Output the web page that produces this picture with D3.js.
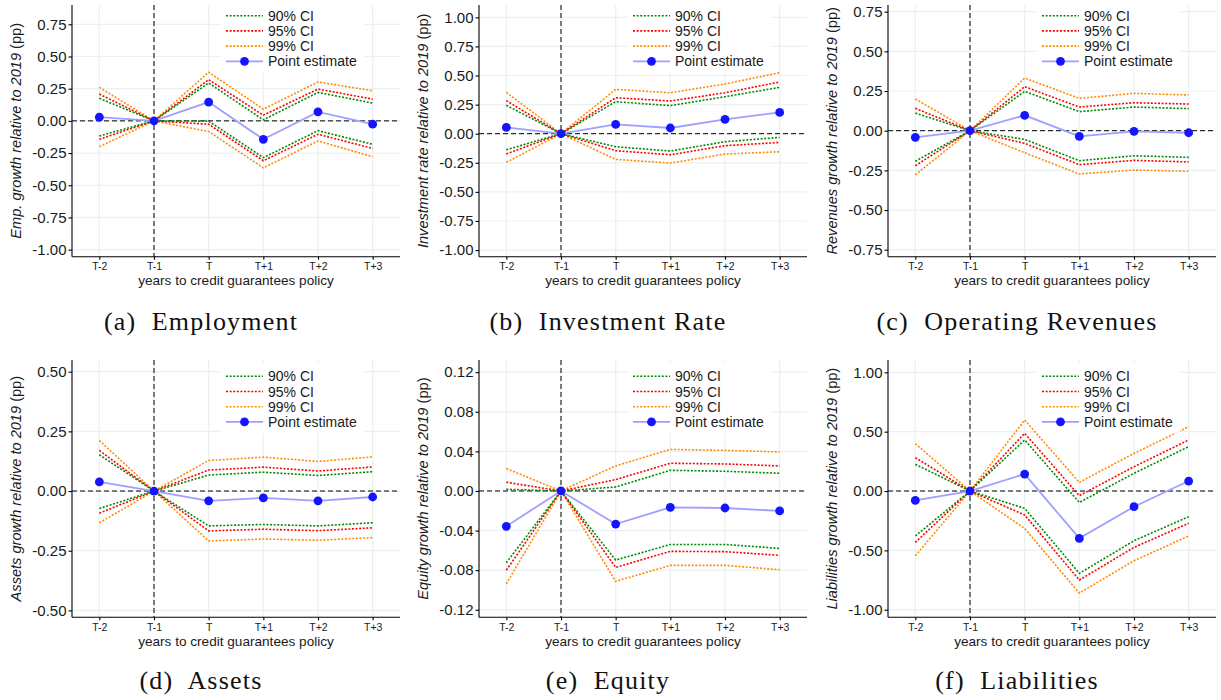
<!DOCTYPE html>
<html>
<head>
<meta charset="utf-8">
<script src="https://cdn.jsdelivr.net/npm/d3@7.9.0/dist/d3.min.js"></script>
<style>
  html, body { margin: 0; padding: 0; background: #fff; }
  svg { display: block; }
  .tick text { font-family: "Liberation Sans", Arial, sans-serif; fill: #1a1a1a; }
  .caption { font-family: "Liberation Serif", "DejaVu Serif", serif; }
</style>
</head>
<body>
<div id="chart"></div>
<script>
const categories = ['T-2', 'T-1', 'T', 'T+1', 'T+2', 'T+3'];

// (a) Employment
const empTicks = [-1, -0.75, -0.5, -0.25, 0, 0.25, 0.5, 0.75];
const empDomain = [-1.055, 0.90];
const empPoint = [0.029, 0, 0.146, -0.143, 0.070, -0.026];
const empHi90 = [0.175, 0, 0.294, 0.008, 0.221, 0.138];
const empLo90 = [-0.117, 0, -0.002, -0.286, -0.076, -0.182];
const empHi95 = [0.208, 0, 0.320, 0.044, 0.247, 0.169];
const empLo95 = [-0.143, 0, -0.026, -0.310, -0.104, -0.214];
const empHi99 = [0.260, 0, 0.378, 0.091, 0.302, 0.234];
const empLo99 = [-0.200, 0, -0.083, -0.365, -0.156, -0.279];

// (b) Investment rate
const invTicks = [-1, -0.75, -0.5, -0.25, 0, 0.25, 0.5, 0.75, 1];
const invDomain = [-1.057, 1.106];
const invPoint = [0.054, 0, 0.080, 0.049, 0.123, 0.183];
const invHi90 = [0.244, 0, 0.275, 0.241, 0.318, 0.398];
const invLo90 = [-0.138, 0, -0.112, -0.149, -0.069, -0.032];
const invHi95 = [0.284, 0, 0.309, 0.281, 0.352, 0.444];
const invLo95 = [-0.175, 0, -0.146, -0.181, -0.103, -0.075];
const invHi99 = [0.355, 0, 0.381, 0.352, 0.427, 0.524];
const invLo99 = [-0.246, 0, -0.221, -0.252, -0.175, -0.155];

// (c) Operating revenues
const revTicks = [-0.75, -0.5, -0.25, 0, 0.25, 0.5, 0.75];
const revDomain = [-0.794, 0.792];
const revPoint = [-0.042, 0, 0.097, -0.036, -0.004, -0.013];
const revHi90 = [0.111, 0, 0.248, 0.120, 0.149, 0.139];
const revLo90 = [-0.193, 0, -0.055, -0.189, -0.158, -0.168];
const revHi95 = [0.141, 0, 0.277, 0.149, 0.176, 0.168];
const revLo95 = [-0.221, 0, -0.080, -0.214, -0.187, -0.197];
const revHi99 = [0.200, 0, 0.332, 0.204, 0.235, 0.225];
const revLo99 = [-0.279, 0, -0.139, -0.273, -0.248, -0.256];

// (d) Assets
const astTicks = [-0.5, -0.25, 0, 0.25, 0.5];
const astDomain = [-0.529, 0.549];
const astPoint = [0.038, 0, -0.041, -0.029, -0.041, -0.025];
const astHi90 = [0.152, 0, 0.067, 0.079, 0.065, 0.081];
const astLo90 = [-0.073, 0, -0.146, -0.140, -0.146, -0.133];
const astHi95 = [0.170, 0, 0.088, 0.100, 0.084, 0.101];
const astLo95 = [-0.093, 0, -0.167, -0.160, -0.166, -0.154];
const astHi99 = [0.212, 0, 0.128, 0.142, 0.124, 0.143];
const astLo99 = [-0.133, 0, -0.209, -0.201, -0.206, -0.195];

// (e) Equity
const eqTicks = [-0.12, -0.08, -0.04, 0, 0.04, 0.08, 0.12];
const eqDomain = [-0.1276, 0.1323];
const eqPoint = [-0.0357, 0, -0.0334, -0.0165, -0.0172, -0.0202];
const eqHi90 = [0.0017, 0, 0.0040, 0.0209, 0.0199, 0.0179];
const eqLo90 = [-0.0725, 0, -0.0698, -0.0540, -0.0540, -0.0580];
const eqHi95 = [0.0088, 0, 0.0115, 0.0280, 0.0273, 0.0253];
const eqLo95 = [-0.0800, 0, -0.0772, -0.0610, -0.0613, -0.0650];
const eqHi99 = [0.0226, 0, 0.0253, 0.0420, 0.0410, 0.0394];
const eqLo99 = [-0.0937, 0, -0.0913, -0.0752, -0.0752, -0.0795];

// (f) Liabilities
const liaTicks = [-1, -0.5, 0, 0.5, 1];
const liaDomain = [-1.064, 1.104];
const liaPoint = [-0.079, 0, 0.143, -0.399, -0.132, 0.084];
const liaHi90 = [0.225, 0, 0.430, -0.096, 0.149, 0.374];
const liaLo90 = [-0.379, 0, -0.146, -0.694, -0.419, -0.216];
const liaHi95 = [0.281, 0, 0.486, -0.039, 0.205, 0.430];
const liaLo95 = [-0.433, 0, -0.202, -0.750, -0.475, -0.272];
const liaHi99 = [0.399, 0, 0.598, 0.073, 0.317, 0.542];
const liaLo99 = [-0.545, 0, -0.315, -0.860, -0.587, -0.379];

const legendLabels = ['90% CI', '95% CI', '99% CI', 'Point estimate'];

const panels = [
  { caption: '(a)  Employment', yTitle: 'Emp. growth relative to 2019', ticks: empTicks, domain: empDomain,
    point: empPoint, bands: [[empLo90, empHi90], [empLo95, empHi95], [empLo99, empHi99]] },
  { caption: '(b)  Investment Rate', yTitle: 'Investment rate relative to 2019', ticks: invTicks, domain: invDomain,
    point: invPoint, bands: [[invLo90, invHi90], [invLo95, invHi95], [invLo99, invHi99]] },
  { caption: '(c)  Operating Revenues', yTitle: 'Revenues growth relative to 2019', ticks: revTicks, domain: revDomain,
    point: revPoint, bands: [[revLo90, revHi90], [revLo95, revHi95], [revLo99, revHi99]] },
  { caption: '(d)  Assets', yTitle: 'Assets growth relative to 2019', ticks: astTicks, domain: astDomain,
    point: astPoint, bands: [[astLo90, astHi90], [astLo95, astHi95], [astLo99, astHi99]] },
  { caption: '(e)  Equity', yTitle: 'Equity growth relative to 2019', ticks: eqTicks, domain: eqDomain,
    point: eqPoint, bands: [[eqLo90, eqHi90], [eqLo95, eqHi95], [eqLo99, eqHi99]] },
  { caption: '(f)  Liabilities', yTitle: 'Liabilities growth relative to 2019', ticks: liaTicks, domain: liaDomain,
    point: liaPoint, bands: [[liaLo90, liaHi90], [liaLo95, liaHi95], [liaLo99, liaHi99]] },
];

// layout
const width = 1221, height = 700;
const colX = [0, 407, 816];
const rowY = [0, 355];
const plotLeft = 72, plotRight = 400, plotTop = 5;
const plotBottom = [256.7, 262.3];
const captionY = [330, 689];
const ciColors = ['#008b00', '#ff0000', '#ff8c00'];
const pointLine = '#9f9fff';
const pointDot = '#1414ff';
const gridColor = '#e9f1f1';
const font = '"Liberation Sans", Arial, sans-serif';

const svg = d3.select('#chart').append('svg')
  .attr('width', width)
  .attr('height', height);

svg.append('rect').attr('width', width).attr('height', height).attr('fill', '#fff');

panels.forEach((p, i) => {
  const col = i % 3, row = Math.floor(i / 3);
  const bottom = plotBottom[row];
  const g = svg.append('g').attr('transform', `translate(${colX[col]},${rowY[row]})`);

  const x = d3.scalePoint().domain(categories).range([plotLeft, plotRight]).padding(0.5);
  const y = d3.scaleLinear().domain(p.domain).range([bottom, plotTop]);

  // gridlines
  const grid = g.append('g').attr('stroke', gridColor).attr('stroke-width', 1.2);
  grid.selectAll('line.h').data(p.ticks).join('line')
    .attr('class', 'h')
    .attr('x1', plotLeft).attr('x2', plotRight)
    .attr('y1', d => y(d)).attr('y2', d => y(d));
  grid.selectAll('line.v').data(categories).join('line')
    .attr('class', 'v')
    .attr('x1', d => x(d)).attr('x2', d => x(d))
    .attr('y1', plotTop).attr('y2', bottom);

  // reference lines
  g.append('line')
    .attr('x1', plotLeft).attr('x2', plotRight)
    .attr('y1', y(0)).attr('y2', y(0))
    .attr('stroke', '#000').attr('stroke-width', 1).attr('stroke-dasharray', '5,3');
  g.append('line')
    .attr('x1', x('T-1')).attr('x2', x('T-1'))
    .attr('y1', plotTop).attr('y2', bottom)
    .attr('stroke', '#000').attr('stroke-width', 1).attr('stroke-dasharray', '5,3');

  const line = d3.line()
    .x((d, j) => x(categories[j]))
    .y(d => y(d));

  // confidence bands, widest drawn first
  [2, 1, 0].forEach(k => {
    p.bands[k].forEach(series => {
      g.append('path')
        .attr('d', line(series))
        .attr('fill', 'none')
        .attr('stroke', ciColors[k])
        .attr('stroke-width', 1.6)
        .attr('stroke-dasharray', '2,1.6');
    });
  });

  // point estimate
  g.append('path')
    .attr('d', line(p.point))
    .attr('fill', 'none')
    .attr('stroke', pointLine)
    .attr('stroke-width', 1.8);
  g.selectAll('circle.pt').data(p.point).join('circle')
    .attr('class', 'pt')
    .attr('cx', (d, j) => x(categories[j]))
    .attr('cy', d => y(d))
    .attr('r', 4.4)
    .attr('fill', pointDot);

  // axes
  const yAxis = g.append('g')
    .attr('transform', `translate(${plotLeft},0)`)
    .call(d3.axisLeft(y).tickValues(p.ticks).tickSize(3.5).tickSizeOuter(0).tickPadding(2)
      .tickFormat(d => d.toFixed(2)));
  yAxis.select('.domain').attr('d', `M0,${plotTop}V${bottom}`);
  yAxis.selectAll('text').attr('font-size', 15).attr('font-family', font);

  const xAxis = g.append('g')
    .attr('transform', `translate(0,${bottom})`)
    .call(d3.axisBottom(x).tickSize(3).tickSizeOuter(0).tickPadding(3));
  xAxis.select('.domain').attr('d', `M${plotLeft},0H${plotRight}`);
  xAxis.selectAll('text').attr('font-size', 10.5).attr('font-family', font);

  g.selectAll('.domain, .tick line').attr('stroke', '#000').attr('stroke-width', 1.1);

  // axis titles
  g.append('text')
    .attr('x', (plotLeft + plotRight) / 2)
    .attr('y', bottom + 28.5)
    .attr('text-anchor', 'middle')
    .attr('font-family', font)
    .attr('font-size', 13.6)
    .attr('fill', '#1a1a1a')
    .text('years to credit guarantees policy');

  const yt = g.append('text')
    .attr('transform', `translate(21,${(plotTop + bottom) / 2}) rotate(-90)`)
    .attr('text-anchor', 'middle')
    .attr('font-family', font)
    .attr('font-size', 14.6)
    .attr('fill', '#1a1a1a');
  yt.append('tspan').attr('font-style', 'italic').text(p.yTitle + ' ');
  yt.append('tspan').text('(pp)');

  // legend
  const legTop = bottom - 241;
  const leg = g.append('g');
  leg.append('rect')
    .attr('x', 221).attr('y', legTop - 14)
    .attr('width', 143).attr('height', 71)
    .attr('fill', '#fff');
  legendLabels.forEach((lab, k) => {
    const ly = legTop + k * 15.2;
    const isPoint = k === 3;
    leg.append('line')
      .attr('x1', 226).attr('x2', 263)
      .attr('y1', ly).attr('y2', ly)
      .attr('stroke', isPoint ? pointLine : ciColors[k])
      .attr('stroke-width', isPoint ? 1.8 : 1.6)
      .attr('stroke-dasharray', isPoint ? null : '2,1.6');
    if (isPoint) {
      leg.append('circle').attr('cx', 244.5).attr('cy', ly).attr('r', 4.4).attr('fill', pointDot);
    }
    leg.append('text')
      .attr('x', 268).attr('y', ly)
      .attr('dy', '0.36em')
      .attr('font-family', font)
      .attr('font-size', 14)
      .attr('fill', '#1a1a1a')
      .text(lab);
  });

  // caption
  svg.append('text')
    .attr('class', 'caption')
    .attr('x', colX[col] + 201)
    .attr('y', captionY[row])
    .attr('text-anchor', 'middle')
    .attr('font-size', 26)
    .attr('letter-spacing', 1.2)
    .attr('fill', '#111')
    .style('white-space', 'pre')
    .text(p.caption);
});
</script>
</body>
</html>
